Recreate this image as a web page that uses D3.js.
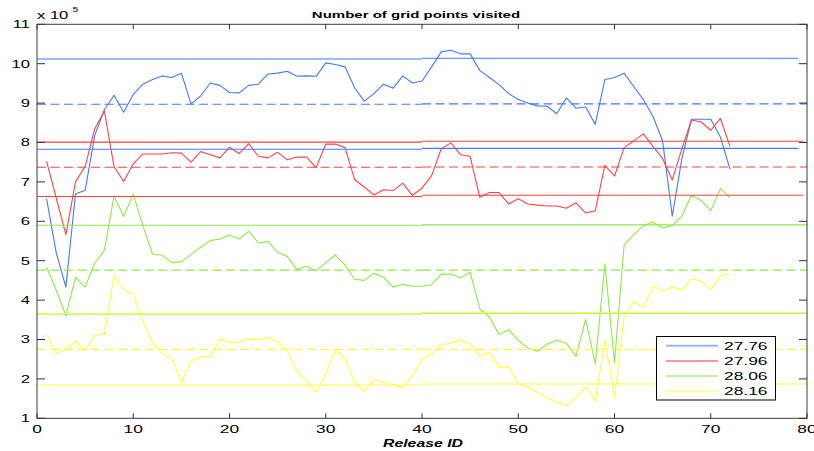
<!DOCTYPE html>
<html>
<head>
<meta charset="utf-8">
<script src="https://cdn.jsdelivr.net/npm/d3@7"></script>
<style>
  html, body { margin: 0; padding: 0; background: #fff; }
  svg { display: block; }
  text { font-family: "Liberation Sans", Arial, Helvetica, sans-serif; fill: #000; }
</style>
</head>
<body>
<svg id="chart" width="814" height="451"></svg>
<script>
// Release IDs on the x axis
const releaseIds = d3.range(1, 73);

// Grid points visited per release (x 10^5), one series per threshold
const series27_76 = [6.57,5.2,4.33,6.70,6.78,8.18,8.83,9.2,8.77,9.22,
  9.48,9.6,9.69,9.65,9.76,8.98,9.18,9.51,9.45,9.27,
  9.26,9.45,9.48,9.74,9.76,9.81,9.68,9.69,9.68,10.02,
  9.98,9.92,9.39,9.05,9.24,9.48,9.38,9.69,9.51,9.56,
  9.92,10.3,10.34,10.25,10.25,9.83,9.65,9.47,9.24,9.09,
  9.0,8.93,8.92,8.73,9.13,8.87,8.9,8.46,9.6,9.65,
  9.76,9.42,9.09,8.66,8.04,6.13,7.59,8.59,8.59,8.59,8.14,7.32];
const series27_96 = [7.52,6.59,5.66,7.0,7.39,8.35,8.8,7.39,7.01,7.46,
  7.71,7.71,7.71,7.74,7.73,7.5,7.77,7.69,7.61,7.88,
  7.72,7.97,7.65,7.61,7.75,7.56,7.63,7.63,7.36,7.96,
  7.96,7.87,7.06,6.87,6.67,6.8,6.78,6.97,6.66,6.84,
  7.16,7.84,7.99,7.69,7.65,6.61,6.73,6.73,6.44,6.57,
  6.44,6.41,6.39,6.39,6.33,6.47,6.21,6.27,7.42,7.15,
  7.87,8.04,8.22,7.9,7.59,7.05,7.84,8.57,8.52,8.31,8.61,7.9];
const series28_06 = [4.84,4.25,3.61,4.58,4.33,4.94,5.26,6.64,6.12,6.69,
  5.89,5.17,5.14,4.95,4.97,5.16,5.34,5.51,5.55,5.65,
  5.55,5.75,5.45,5.49,5.21,5.11,4.78,4.86,4.74,4.95,
  5.15,4.89,4.53,4.5,4.68,4.58,4.33,4.4,4.35,4.35,
  4.39,4.66,4.66,4.56,4.71,3.78,3.57,3.13,3.25,2.98,
  2.78,2.7,2.88,2.99,2.9,2.57,3.52,2.38,4.92,2.42,
  5.4,5.66,5.89,5.98,5.83,5.89,6.13,6.66,6.53,6.27,6.83,6.6];
const series28_16 = [3.13,2.65,2.74,2.96,2.72,3.1,3.13,4.62,4.27,4.14,
  3.46,2.91,2.65,2.51,1.91,2.45,2.57,2.57,3.01,2.93,
  2.93,3.02,2.98,3.05,2.95,2.69,2.2,1.96,1.66,2.13,
  2.72,2.52,1.93,1.68,1.98,1.91,1.85,1.77,2.07,2.51,
  2.64,2.86,2.91,2.99,2.89,2.57,2.68,2.3,2.31,1.87,
  1.79,1.66,1.53,1.41,1.32,1.53,1.8,1.43,2.99,1.53,
  3.59,3.97,3.82,4.36,4.24,4.33,4.26,4.55,4.48,4.28,4.61,4.67];

// Reference levels per series, two spans each: [releases 0-40, releases 40-end]
const upper27_76 = [10.12, 10.14], mean27_76 = [8.97, 8.98], lower27_76 = [7.83, 7.85];
const upper27_96 = [8.01, 8.03],   mean27_96 = [7.37, 7.38], lower27_96 = [6.63, 6.66];
const upper28_06 = [5.90, 5.91],   mean28_06 = [4.76, 4.76], lower28_06 = [3.65, 3.67];
const upper28_16 = [3.66, 3.68],   mean28_16 = [2.75, 2.75], lower28_16 = [1.845, 1.87];
const spanBreaks = [0, 40];
const solidEnds = [79.1, 79.6, 80, 80];

const legendLabels = ["27.76", "27.96", "28.06", "28.16"];
const xTicks = [0, 10, 20, 30, 40, 50, 60, 70, 80];
const yTicks = [1, 2, 3, 4, 5, 6, 7, 8, 9, 10, 11];

const colors = ["#4678ff", "#ff4242", "#8ee84a", "#ffff3c"];

const seriesList = [
  { values: series27_76, upper: upper27_76, mean: mean27_76, lower: lower27_76 },
  { values: series27_96, upper: upper27_96, mean: mean27_96, lower: lower27_96 },
  { values: series28_06, upper: upper28_06, mean: mean28_06, lower: lower28_06 },
  { values: series28_16, upper: upper28_16, mean: mean28_16, lower: lower28_16 }
];

const svg = d3.select("#chart");
const plot = { left: 37, right: 807, top: 24.3, bottom: 418.3 };
const x = d3.scaleLinear().domain([0, 80]).range([plot.left, plot.right]);
const y = d3.scaleLinear().domain([1, 11]).range([plot.bottom, plot.top]);

const STRETCH = 1.58; // wide horizontal glyph proportions

function label(g, px, py, str, opts) {
  const t = g.append("text")
    .attr("transform", `translate(${px},${py}) scale(${opts.sx || STRETCH},1)`)
    .attr("text-anchor", opts.anchor || "start")
    .style("font-size", opts.size + "px")
    .text(str);
  if (opts.weight) t.style("font-weight", opts.weight);
  if (opts.italic) t.style("font-style", "italic");
  return t;
}

const lineGen = d3.line()
  .x((d, i) => x(releaseIds[i]))
  .y(d => y(d));

// Data lines
const dataG = svg.append("g");
seriesList.forEach((s, k) => {
  dataG.append("path")
    .datum(s.values)
    .attr("d", lineGen)
    .attr("fill", "none")
    .attr("stroke", colors[k])
    .attr("stroke-width", 1.1)
    .attr("stroke-linejoin", "round");
});

// Reference levels
const refG = svg.append("g");
seriesList.forEach((s, k) => {
  [["upper", false], ["mean", true], ["lower", false]].forEach(([key, dashed]) => {
    const levels = s[key];
    levels.forEach((v, j) => {
      const x0 = spanBreaks[j];
      const x1 = j === 0 ? spanBreaks[1] : (dashed ? 80 : solidEnds[k]);
      refG.append("line")
        .attr("x1", x(x0)).attr("x2", x(x1))
        .attr("y1", y(v)).attr("y2", y(v))
        .attr("stroke", colors[k])
        .attr("stroke-width", 1.1)
        .attr("stroke-dasharray", dashed ? "9,4.5" : null);
    });
  });
});

// Frame
const axG = svg.append("g");
axG.append("rect")
  .attr("x", plot.left).attr("y", plot.top)
  .attr("width", plot.right - plot.left).attr("height", plot.bottom - plot.top)
  .attr("fill", "none").attr("stroke", "#3a3a3a").attr("stroke-width", 1);

// Ticks on all four sides, pointing inward
xTicks.forEach(t => {
  axG.append("line").attr("x1", x(t)).attr("x2", x(t))
    .attr("y1", plot.bottom).attr("y2", plot.bottom - 5).attr("stroke", "#333");
  axG.append("line").attr("x1", x(t)).attr("x2", x(t))
    .attr("y1", plot.top).attr("y2", plot.top + 5).attr("stroke", "#333");
  label(axG, x(t), 432.5, String(t), { size: 11, anchor: "middle" });
});
yTicks.forEach(t => {
  axG.append("line").attr("x1", plot.left).attr("x2", plot.left + 8)
    .attr("y1", y(t)).attr("y2", y(t)).attr("stroke", "#333");
  axG.append("line").attr("x1", plot.right).attr("x2", plot.right - 8)
    .attr("y1", y(t)).attr("y2", y(t)).attr("stroke", "#333");
  label(axG, 30, y(t) + 3.9, String(t), { size: 10.5, anchor: "end" });
});

// Exponent marker
label(svg, 37, 18.5, "x 10", { size: 10.5 });
label(svg, 72.5, 11.5, "5", { size: 6.5 });

// Title and axis label
label(svg, 416, 17.5, "Number of grid points visited", { size: 9.5, anchor: "middle", weight: "bold" });
label(svg, 423, 446.5, "Release ID", { size: 10, anchor: "middle", weight: "bold", italic: true });

// Legend
const leg = svg.append("g");
leg.append("rect")
  .attr("x", 656.5).attr("y", 336.5).attr("width", 119).attr("height", 63.5)
  .attr("fill", "#fff").attr("stroke", "#000").attr("stroke-width", 1);
legendLabels.forEach((name, k) => {
  const cy = 345.7 + k * 15.2;
  leg.append("line")
    .attr("x1", 666).attr("x2", 718).attr("y1", cy).attr("y2", cy)
    .attr("stroke", colors[k]).attr("stroke-opacity", 0.55).attr("stroke-width", 2);
  label(leg, 724, cy + 4, name, { size: 11 });
});
</script>
</body>
</html>
